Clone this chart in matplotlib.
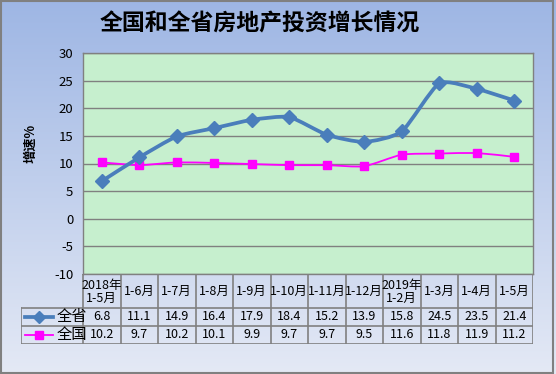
import matplotlib.pyplot as plt
import numpy as np
from matplotlib.path import Path
from matplotlib.patches import PathPatch, Rectangle

plt.rcParams['font.family'] = ['Noto Sans CJK SC', 'DejaVu Sans']
plt.rcParams['axes.unicode_minus'] = False

# data
categories = ['2018年\n1-5月', '1-6月', '1-7月', '1-8月', '1-9月', '1-10月',
              '1-11月', '1-12月', '2019年\n1-2月', '1-3月', '1-4月', '1-5月']
sheng = [6.8, 11.1, 14.9, 16.4, 17.9, 18.4, 15.2, 13.9, 15.8, 24.5, 23.5, 21.4]
guo = [10.2, 9.7, 10.2, 10.1, 9.9, 9.7, 9.7, 9.5, 11.6, 11.8, 11.9, 11.2]
series = [('全省', sheng), ('全国', guo)]
yticks = [30, 25, 20, 15, 10, 5, 0, -5, -10]

SHENG_C = '#4A7EBB'
GUO_C = '#FF00FF'
GRID_C = '#808080'


def smooth_path(x, y, k=0.1):
    # cubic bezier through the points (like excel smoothed line)
    verts = [(x[0], y[0])]
    codes = [Path.MOVETO]
    n = len(x)
    for i in range(n - 1):
        x0, y0 = (x[i - 1], y[i - 1]) if i > 0 else (x[i], y[i])
        x3, y3 = (x[i + 2], y[i + 2]) if i + 2 < n else (x[i + 1], y[i + 1])
        c1 = (x[i] + (x[i + 1] - x0) * k, y[i] + (y[i + 1] - y0) * k)
        c2 = (x[i + 1] - (x3 - x[i]) * k, y[i + 1] - (y3 - y[i]) * k)
        verts += [c1, c2, (x[i + 1], y[i + 1])]
        codes += [Path.CURVE4] * 3
    return Path(verts, codes)


W, H = 556, 374
fig = plt.figure(figsize=(W / 100, H / 100), dpi=100)

# background gradient
bg = fig.add_axes([0, 0, 1, 1], zorder=-10)
top = np.array([158, 182, 228]) / 255
bot = np.array([228, 233, 245]) / 255
t = np.linspace(0, 1, 200)[:, None]
grad = top * (1 - t) + bot * t
bg.imshow(grad[:, None, :].repeat(2, axis=1), aspect='auto', extent=[0, 1, 0, 1])
bg.set_axis_off()
bg.add_patch(Rectangle((0.002, 0.003), 0.993, 0.994, transform=bg.transAxes,
                       fill=False, edgecolor='#808080', lw=1.5))

# plot area
x0, x1, y0, y1 = 83, 533, 53, 274
ax = fig.add_axes([x0 / W, 1 - y1 / H, (x1 - x0) / W, (y1 - y0) / H])
ax.set_facecolor('#C6EFCE')
xs = np.arange(len(categories))
ax.set_xlim(-0.5, len(categories) - 0.5)
ax.set_ylim(-10, 30)
ax.set_yticks(yticks)
ax.set_yticklabels([str(v) for v in yticks], fontsize=9.5)
ax.tick_params(axis='y', length=0, pad=7)
ax.set_xticks([])
ax.yaxis.grid(True, color=GRID_C, lw=1)
ax.set_axisbelow(True)
for sp in ax.spines.values():
    sp.set_color(GRID_C)
    sp.set_linewidth(1)

ax.add_patch(PathPatch(smooth_path(xs, guo), fill=False, edgecolor=GUO_C, lw=1.3, zorder=3))
ax.plot(xs, guo, ls='none', marker='s', ms=6, color=GUO_C, zorder=4)
ax.add_patch(PathPatch(smooth_path(xs, sheng), fill=False, edgecolor=SHENG_C, lw=2.7,
                       capstyle='round', zorder=5))
ax.plot(xs, sheng, ls='none', marker='D', ms=7, color=SHENG_C, zorder=6)

fig.text(260 / W, 1 - 24 / H, '全国和全省房地产投资增长情况', ha='center', va='center',
         fontsize=16.5, fontweight='bold')
fig.text(30 / W, 1 - 143 / H, '增速%', ha='center', va='center', rotation=90,
         fontsize=9.5, fontweight='bold')

# data table
tx0, ty0, ty1 = 21, 274, 344
cw = (x1 - x0) / len(categories)
left = -0.5 - (x0 - tx0) / cw
tab = fig.add_axes([tx0 / W, 1 - ty1 / H, (x1 - tx0) / W, (ty1 - ty0) / H])
tab.set_xlim(left, len(categories) - 0.5)
tab.set_ylim(ty1 - ty0, 0)
tab.set_axis_off()
hdr, rh = 34, 18
lkw = dict(color=GRID_C, lw=1.2, solid_capstyle='projecting')
tab.plot([-0.5, len(categories) - 0.5], [0, 0], **lkw)
for yy in [hdr, hdr + rh, hdr + 2 * rh]:
    tab.plot([left, len(categories) - 0.5], [yy, yy], **lkw)
tab.plot([left, left], [hdr, hdr + 2 * rh], **lkw)
for i in range(len(categories) + 1):
    tab.plot([i - 0.5, i - 0.5], [0, hdr + 2 * rh], **lkw)

for i, c in enumerate(categories):
    tab.text(i, hdr / 2 + 0.5, c, ha='center', va='center', fontsize=9, linespacing=1.0)

for r, (name, vals) in enumerate(series):
    yc = hdr + rh * r + rh / 2
    for i, v in enumerate(vals):
        tab.text(i, yc, f'{v:.1f}', ha='center', va='center', fontsize=9)
    lx0 = left + 4 / cw
    lx1 = left + 32 / cw
    if name == '全省':
        tab.plot([lx0, lx1], [yc, yc], color=SHENG_C, lw=2.7)
        tab.plot([(lx0 + lx1) / 2], [yc], marker='D', ms=6, color=SHENG_C)
    else:
        tab.plot([lx0, lx1], [yc, yc], color=GUO_C, lw=1.3)
        tab.plot([(lx0 + lx1) / 2], [yc], marker='s', ms=6, color=GUO_C)
    tab.text(left + 36 / cw, yc, name, ha='left', va='center', fontsize=11)

fig.savefig('out.png', dpi=100)
